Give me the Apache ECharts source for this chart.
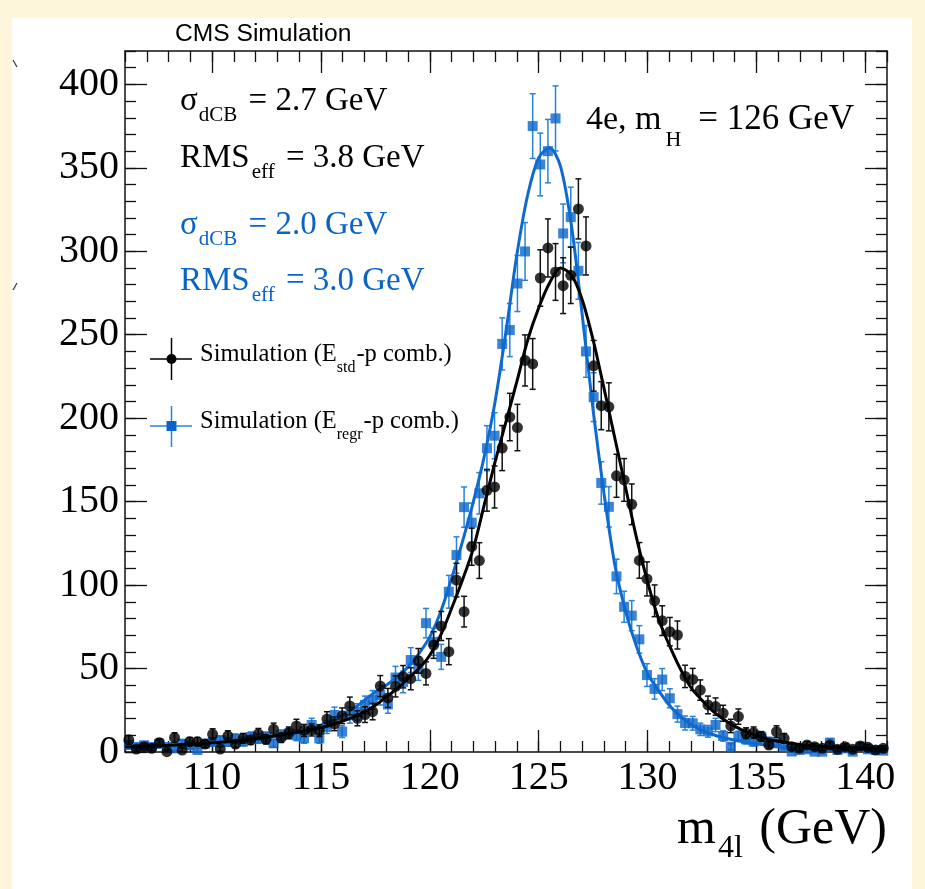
<!DOCTYPE html>
<html><head><meta charset="utf-8">
<script src="https://cdn.jsdelivr.net/npm/echarts@6/dist/echarts.min.js"></script>
<style>
html,body{margin:0;padding:0;background:#fdf6da;overflow:hidden;}
#panel{position:absolute;left:12px;top:18px;width:900px;height:871px;background:#fff;}
#chart{position:absolute;left:0;top:0;width:925px;height:889px;}
</style>
</head><body><div id="panel"></div><div id="chart"></div>
<script>
// ---- histogram binning (100 bins, 106-141 GeV) ----
const BIN_MIN = 106, BIN_WIDTH = 0.35;
// Simulation (E_std - p comb.)  black circles
const blackValues = [7.2,1.8,3.2,2.2,5.6,0.2,8.6,1.2,6.2,6.2,4.8,10.6,1.8,9.6,4.8,8.2,7.2,10.8,7.6,13.6,
 8.6,11.6,15.6,12.9,13.2,12.8,19.7,16.9,21.7,27.6,20.2,22.4,24.2,39.5,32.4,39.3,45.1,43.9,54.6,47.1,
 64.1,75.5,60.1,103,84.1,123,114.7,156.8,158.8,182.1,200.7,194.4,234.6,232.5,284,302,287.6,279.4,285.6,325.4,
 303.2,231.4,207.5,206.8,165.5,163,148.4,114.8,103.7,90.6,78.7,72.1,70.1,45.3,43.5,37.1,28.2,27.2,23.2,15.6,
 21.2,11.2,11.6,9.2,4.2,12.2,8.2,3.2,2.2,4.2,3.2,2.2,4.2,1.6,3.2,1.6,3.6,2.8,1.2,2.2];
const blackErrors = [2.7,1.5,1.8,1.5,2.4,1.0,2.9,1.2,2.5,2.5,2.2,3.3,1.4,3.1,2.2,2.9,2.7,3.3,2.8,3.7,
 2.9,3.4,4.0,3.6,3.6,3.6,4.4,4.1,4.7,5.3,4.5,4.7,4.9,6.3,5.7,6.3,6.7,6.6,7.4,6.9,
 8.0,8.7,7.8,10.1,9.2,11.1,10.7,12.5,12.6,13.5,14.2,13.9,15.3,15.2,16.9,17.4,17.0,16.7,16.9,18.0,
 17.4,15.2,14.4,14.4,12.9,12.8,12.2,10.7,10.2,9.5,8.9,8.5,8.4,6.7,6.6,6.1,5.3,5.2,4.8,4.0,
 4.6,3.3,3.4,3.0,2.0,3.5,2.9,1.8,1.5,2.0,1.8,1.5,2.0,1.3,1.8,1.3,1.9,1.7,1.1,1.5];
// Simulation (E_regr - p comb.)  blue squares
const blueValues = [4.2,3.0,4.0,3.0,5.0,3.0,2.2,5.0,4.0,1.2,5.0,6.0,7.0,6.0,8.0,6.2,9.0,8.0,9.0,5.2,
 10.0,11.0,10.0,8.2,16.2,8.2,15.0,22.2,12.2,22.0,24.0,28.2,31.2,34.0,28.5,44.6,42.0,55.1,50.0,77.2,
 66.0,57.0,96.0,118.0,146.7,137.4,155.0,182.0,189.5,244.5,252.8,280.7,299.9,375.0,352.0,360.0,379.6,310.7,320.5,288.3,
 240.0,212.6,161.2,146.9,105.2,87.0,81.7,67.5,46.1,37.8,43.4,32.2,22.7,17.4,17.2,13.6,12.4,16.2,9.6,3.2,
 9.4,7.6,6.2,9.2,6.2,5.2,3.6,0.3,1.2,1.6,0.2,0.2,5.6,1.2,2.2,0.2,3.2,1.6,1.2,0.8];
const blueErrors = [2.0,1.7,2.0,1.7,2.2,1.7,1.5,2.2,2.0,1.1,2.2,2.4,2.6,2.4,2.8,2.5,3.0,2.8,3.0,2.3,
 3.2,3.3,3.2,2.9,4.0,2.9,3.9,4.7,3.5,4.7,4.9,5.3,5.6,5.8,5.3,6.7,6.5,7.4,7.1,8.8,
 8.1,7.5,9.8,10.9,12.1,11.7,12.4,13.5,13.8,15.6,15.9,16.8,17.3,19.4,18.8,19.0,19.5,17.6,17.9,17.0,
 15.5,14.6,12.7,12.1,10.3,9.3,9.0,8.2,6.8,6.1,6.6,5.7,4.8,4.2,4.1,3.7,3.5,4.0,3.1,1.8,
 3.1,2.8,2.5,3.0,2.5,2.3,1.9,0.6,1.1,1.3,0.5,0.5,2.4,1.1,1.5,0.5,1.8,1.3,1.1,0.9];
// ---- fitted dCB curves, sampled every 0.5 GeV from 106 to 141 ----
const FIT_MIN = 106, FIT_STEP = 0.5;
const blackFit = [3.0,3.2,3.5,3.7,4.0,4.4,4.8,5.1,5.5,6.0,6.5,7.2,8.0,9.0,10.0,11.0,12.0,13.2,14.5,16.3,
 18.5,21.0,24.0,28.0,33.0,38.0,44.0,50.0,58.0,70.0,86.0,103,122,148,174,198,222,247,266,281,
 290,286,271,247,218,188,158,128,102,80,64,50,38.5,31,24.5,19.5,15.5,12.2,9.8,7.8,
 6.4,5.4,4.5,3.9,3.4,3.0,2.7,2.4,2.2,2.0,1.9];
const blueFit = [2.5,2.7,3.0,3.2,3.5,3.9,4.3,4.6,5.0,5.6,6.2,6.8,7.5,8.5,9.5,10.7,12.0,13.8,16.0,19.0,
 22.0,26.0,31.0,36.0,40.0,45.0,51.0,59.0,69.0,84.0,104,126,150,177,210,252,298,334,356,362,
 351,316,262,205,155,112,84,63,47,37,28,21.5,16.5,13,10.5,8.5,7.2,6.0,5.0,4.1,
 3.3,2.7,2.2,1.9,1.7,1.5,1.4,1.3,1.2,1.1,1.0];
// ---- axes ----
const X_MIN = 106, X_MAX = 141, Y_MIN = 0, Y_MAX = 420;
const xMajorTicks = [110,115,120,125,130,135,140];
const yMajorTicks = [0,50,100,150,200,250,300,350,400];

const BLUE = '#0a64c8', BLUE_BAR = '#2a82dc', BLACK = '#000';
const SERIF = '"Liberation Serif","Times New Roman",serif';
const SANS = '"Liberation Sans",Arial,sans-serif';

const binCenter = i => BIN_MIN + BIN_WIDTH * (i + 0.5);
const blackPts = blackValues.map((v, i) => [binCenter(i), v, blackErrors[i]]);
const bluePts = blueValues.map((v, i) => [binCenter(i), v, blueErrors[i]]);
const blackLine = blackFit.map((v, i) => [FIT_MIN + FIT_STEP * i, v]);
const blueLine = blueFit.map((v, i) => [FIT_MIN + FIT_STEP * i, v]);

function errorBars(color, width) {
  return function (params, api) {
    const x = api.value(0), y = api.value(1), e = api.value(2);
    const lo = api.coord([x, Math.max(y - e, Y_MIN)]);
    const hi = api.coord([x, Math.min(y + e, Y_MAX)]);
    const c = 3;
    const st = { stroke: color, lineWidth: width };
    const ch = [{ type: 'line', shape: { x1: lo[0], y1: lo[1], x2: hi[0], y2: hi[1] }, style: st }];
    if (y + e <= Y_MAX) ch.push({ type: 'line', shape: { x1: hi[0] - c, y1: hi[1], x2: hi[0] + c, y2: hi[1] }, style: st });
    if (y - e >= Y_MIN) ch.push({ type: 'line', shape: { x1: lo[0] - c, y1: lo[1], x2: lo[0] + c, y2: lo[1] }, style: st });
    return { type: 'group', children: ch };
  };
}

function xAxisDef(pos, major, labels) {
  const a = {
    type: 'value', min: X_MIN, max: X_MAX, position: pos,
    axisLine: { show: major, onZero: false, lineStyle: { color: '#111', width: 1.5 } },
    axisTick: { show: true, inside: true, length: major ? 22 : 11, lineStyle: { color: '#111', width: 1.3 } },
    axisLabel: { show: labels },
    splitLine: { show: false }, minorTick: { show: false }
  };
  if (major) {
    a.axisTick.customValues = xMajorTicks;
    a.axisLabel = labels ? { show: true, customValues: xMajorTicks, fontFamily: SERIF, fontSize: 40, color: '#000', margin: 6 } : { show: false };
  } else { a.interval = 1; }
  return a;
}
function yAxisDef(pos, major, labels) {
  const a = {
    type: 'value', min: Y_MIN, max: Y_MAX, position: pos,
    axisLine: { show: major, onZero: false, lineStyle: { color: '#111', width: 1.5 } },
    axisTick: { show: true, inside: true, length: major ? 22 : 11, lineStyle: { color: '#111', width: 1.3 } },
    axisLabel: { show: labels },
    splitLine: { show: false }, minorTick: { show: false }
  };
  if (major) {
    a.axisTick.customValues = yMajorTicks;
    a.axisLabel = labels ? { show: true, customValues: yMajorTicks, fontFamily: SERIF, fontSize: 40, color: '#000', margin: 6 } : { show: false };
  } else { a.interval = 10; }
  return a;
}

// text runs with sub-scripts, laid out with measured widths (g = extra gap after a part)
const mctx = document.createElement('canvas').getContext('2d');
function run(x, baseline, parts, color, family, align) {
  const widths = parts.map(p => { mctx.font = p.s + 'px ' + family; return mctx.measureText(p.t).width + (p.g || 0); });
  const total = widths.reduce((a, b) => a + b, 0);
  let cx = align === 'right' ? x - total : x;
  return parts.map((p, i) => {
    const el = {
      type: 'text', x: cx, y: baseline + (p.dy || 0) - 0.34 * p.s, z: 100,
      style: { text: p.t, fontSize: p.s, fontFamily: family, fill: color, align: 'left', verticalAlign: 'middle' }
    };
    cx += widths[i];
    return el;
  });
}

const graphics = [].concat(
  run(175, 43, [{ t: 'CMS Simulation', s: 24.6 }], '#000', SANS),
  run(180, 113, [{ t: 'σ', s: 33, g: 1 }, { t: 'dCB', s: 21, dy: 10, g: 3 }, { t: ' = 2.7 GeV', s: 33 }], '#000', SERIF),
  run(180, 170, [{ t: 'RMS', s: 33, g: 2 }, { t: 'eff', s: 21, dy: 10, g: 3 }, { t: ' = 3.8 GeV', s: 33 }], '#000', SERIF),
  run(180, 237, [{ t: 'σ', s: 33, g: 1 }, { t: 'dCB', s: 21, dy: 10, g: 3 }, { t: ' = 2.0 GeV', s: 33 }], BLUE, SERIF),
  run(180, 293, [{ t: 'RMS', s: 33, g: 2 }, { t: 'eff', s: 21, dy: 10, g: 3 }, { t: ' = 3.0 GeV', s: 33 }], BLUE, SERIF),
  run(586, 132, [{ t: '4e, m', s: 34, g: 4 }, { t: 'H', s: 22, dy: 16, g: 8 }, { t: ' = 126 GeV', s: 35 }], '#000', SERIF),
  run(200, 363, [{ t: 'Simulation (E', s: 24.5 }, { t: 'std', s: 16, dy: 10, g: 1 }, { t: '-p comb.)', s: 24.5 }], '#000', SERIF),
  run(200, 430, [{ t: 'Simulation (E', s: 24.5 }, { t: 'regr', s: 16, dy: 10, g: 1 }, { t: '-p comb.)', s: 24.5 }], '#000', SERIF),
  run(887, 847, [{ t: 'm', s: 50, g: 2 }, { t: '4l', s: 32, dy: 12, g: 4 }, { t: ' (GeV)', s: 50 }], '#000', SERIF, 'right'),
  [
    // legend keys
    { type: 'line', z: 100, shape: { x1: 150, y1: 359, x2: 192, y2: 359 }, style: { stroke: '#000', lineWidth: 1.5 } },
    { type: 'line', z: 100, shape: { x1: 171.5, y1: 338, x2: 171.5, y2: 380 }, style: { stroke: '#000', lineWidth: 1.5 } },
    { type: 'circle', z: 101, shape: { cx: 171.5, cy: 359, r: 5 }, style: { fill: '#000' } },
    { type: 'line', z: 100, shape: { x1: 150, y1: 426, x2: 192, y2: 426 }, style: { stroke: BLUE_BAR, lineWidth: 1.5 } },
    { type: 'line', z: 100, shape: { x1: 171.5, y1: 406, x2: 171.5, y2: 447 }, style: { stroke: BLUE_BAR, lineWidth: 1.5 } },
    { type: 'rect', z: 101, shape: { x: 166.5, y: 421, width: 10, height: 10 }, style: { fill: BLUE } },
    // slide crop artefacts on the left edge
    { type: 'line', z: 100, shape: { x1: 13, y1: 60, x2: 17, y2: 67 }, style: { stroke: '#333', lineWidth: 1.2 } },
    { type: 'line', z: 100, shape: { x1: 17, y1: 283, x2: 13, y2: 290 }, style: { stroke: '#333', lineWidth: 1.2 } }
  ]
);

const chart = echarts.init(document.getElementById('chart'), null, { renderer: 'canvas' });
chart.setOption({
  animation: false,
  backgroundColor: 'transparent',
  grid: { left: 125, top: 51, width: 762, height: 701, containLabel: false },
  xAxis: [xAxisDef('bottom', true, true), xAxisDef('bottom', false, false), xAxisDef('top', true, false), xAxisDef('top', false, false)],
  yAxis: [yAxisDef('left', true, true), yAxisDef('left', false, false), yAxisDef('right', true, false), yAxisDef('right', false, false)],
  graphic: graphics,
  series: [
    { name: 'blueErr', type: 'custom', xAxisIndex: 0, yAxisIndex: 0, data: bluePts, renderItem: errorBars(BLUE_BAR, 1.5), clip: true, z: 2, silent: true },
    { name: 'Simulation (E_regr-p comb.)', type: 'scatter', xAxisIndex: 0, yAxisIndex: 0, data: bluePts.map(p => [p[0], p[1]]), symbol: 'rect', symbolSize: 10, itemStyle: { color: BLUE }, z: 3, clip: true, silent: true },
    { name: 'blueFit', type: 'line', xAxisIndex: 0, yAxisIndex: 0, data: blueLine, showSymbol: false, smooth: 0.3, lineStyle: { color: '#0f6ad0', width: 3 }, z: 4, silent: true },
    { name: 'blackErr', type: 'custom', xAxisIndex: 0, yAxisIndex: 0, data: blackPts, renderItem: errorBars('#111', 1.5), clip: true, z: 5, silent: true },
    { name: 'Simulation (E_std-p comb.)', type: 'scatter', xAxisIndex: 0, yAxisIndex: 0, data: blackPts.map(p => [p[0], p[1]]), symbol: 'circle', symbolSize: 11, itemStyle: { color: '#000' }, z: 6, clip: true, silent: true },
    { name: 'blackFit', type: 'line', xAxisIndex: 0, yAxisIndex: 0, data: blackLine, showSymbol: false, smooth: 0.3, lineStyle: { color: '#000', width: 3 }, z: 7, silent: true }
  ]
});
</script>
</body></html>
